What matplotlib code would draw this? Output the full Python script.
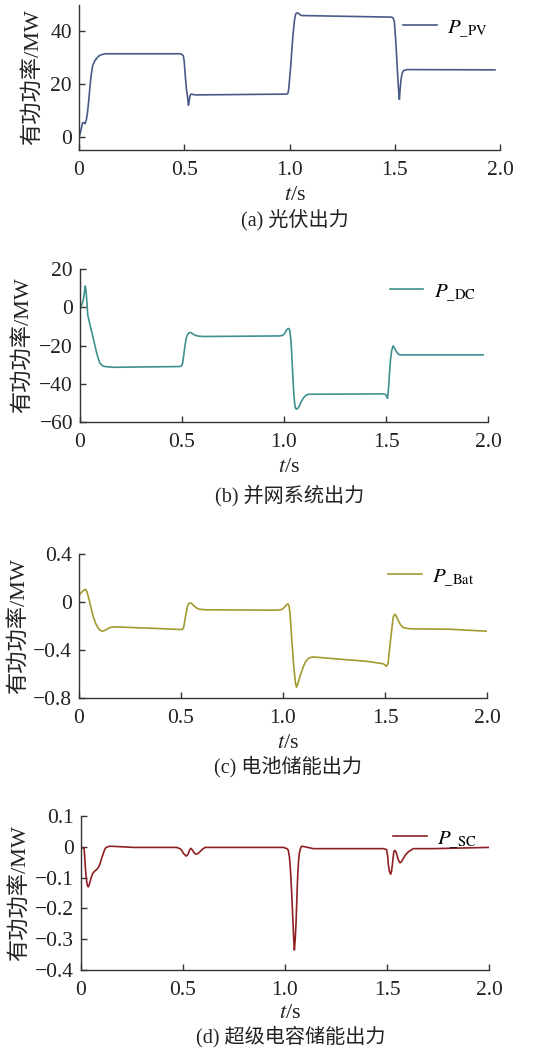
import matplotlib
matplotlib.use('Agg')
import matplotlib.pyplot as plt

plt.rcParams['font.family'] = ['Liberation Serif', 'Noto Sans CJK SC']
plt.rcParams['mathtext.fontset'] = 'stix'
plt.rcParams['axes.unicode_minus'] = True

# (a) PV output, MW
t_pv = [0.0, 0.004, 0.012, 0.017, 0.024, 0.029, 0.035, 0.04, 0.046, 0.052, 0.058, 0.065,
        0.075, 0.084, 0.095, 0.108, 0.125, 0.147, 0.48, 0.49,
        0.496, 0.5, 0.505, 0.51, 0.515, 0.52, 0.524, 0.527, 0.531, 0.535, 0.545, 0.559,
        0.987, 0.993, 0.996, 1.0, 1.006, 1.012, 1.018, 1.024,
        1.029, 1.035, 1.042, 1.05, 1.058, 1.485, 1.492, 1.498, 1.502, 1.506, 1.51, 1.514,
        1.518, 1.522, 1.526, 1.53, 1.535, 1.541, 1.557, 1.976]
p_pv = [0.0, 0.8, 3.5, 5.3, 5.4, 5.0, 6.5, 9.0, 13.5, 19.0, 23.5, 27.0,
        28.8, 29.8, 30.7, 31.2, 31.5, 31.5, 31.5, 31.2,
        30.6, 28.5, 23.0, 18.5, 15.5, 12.0, 13.8, 15.5, 16.1, 16.2, 16.0, 15.9,
        16.2, 16.6, 18.0, 21.5, 27.0, 34.0, 40.0, 44.5,
        46.5, 47.0, 46.9, 46.3, 46.0, 45.4, 45.1, 43.7, 39.5, 34.7, 29.0, 23.2,
        18.0, 14.2, 18.5, 21.9, 24.0, 25.1, 25.5, 25.4]

# (b) grid-connected system output, MW
t_dc = [0.0, 0.008, 0.016, 0.022, 0.026, 0.03, 0.033, 0.038, 0.049, 0.065, 0.082, 0.09, 0.098,
        0.11, 0.122, 0.163, 0.49, 0.498, 0.503, 0.508, 0.514, 0.52, 0.526, 0.534, 0.542,
        0.552, 0.563, 0.58, 0.604, 0.98, 0.995, 1.004, 1.012, 1.02, 1.025, 1.029,
        1.033, 1.037, 1.041, 1.045, 1.049, 1.053, 1.057, 1.061, 1.067, 1.074, 1.084, 1.094,
        1.105, 1.118, 1.486, 1.498, 1.502, 1.507, 1.51, 1.513, 1.517,
        1.522, 1.528, 1.535, 1.542, 1.551, 1.559, 1.567, 1.976]
p_dc = [0.0, 1.0, 3.8, 8.0, 11.1, 8.0, 3.8, -4.0, -9.2, -16.2, -24.0, -27.0, -29.3,
        -30.6, -31.0, -31.4, -31.0, -30.6, -29.3, -25.5, -20.6, -16.5, -14.5, -13.4, -13.2,
        -13.8, -14.6, -15.1, -15.3, -15.0, -14.6, -13.6, -12.0, -11.1, -11.2, -12.7,
        -16.5, -22.3, -31.0, -39.7, -46.5, -51.0, -52.8, -53.3, -53.0, -51.9, -49.5, -47.6,
        -46.3, -45.5, -45.3, -45.6, -46.3, -47.6, -45.5, -41.5, -34.5,
        -27.5, -22.5, -20.2, -21.5, -23.2, -24.4, -24.9, -24.9]

# (c) battery storage output, MW
t_bat = [0.005, 0.013, 0.021, 0.027, 0.033, 0.039, 0.046, 0.058, 0.07, 0.082, 0.095, 0.105,
         0.114, 0.124, 0.136, 0.15, 0.168, 0.266, 0.429,
         0.503, 0.511, 0.515, 0.519, 0.525, 0.531, 0.537, 0.544, 0.552, 0.56, 0.572, 0.584,
         0.6, 0.625, 0.968, 0.99, 1.001, 1.012, 1.02, 1.026,
         1.03, 1.034, 1.038, 1.042, 1.047, 1.052, 1.058, 1.062, 1.066, 1.071, 1.078, 1.088,
         1.099, 1.11, 1.123, 1.135, 1.148, 1.246, 1.409,
         1.49, 1.5, 1.507, 1.515, 1.52, 1.527, 1.534, 1.54, 1.546, 1.551, 1.557, 1.564,
         1.576, 1.589, 1.61, 1.638, 1.817, 1.997]
p_bat = [0.066, 0.082, 0.094, 0.102, 0.105, 0.085, 0.043, -0.04, -0.124, -0.18, -0.221, -0.236,
         -0.243, -0.238, -0.227, -0.214, -0.207, -0.213, -0.224,
         -0.23, -0.221, -0.195, -0.152, -0.095, -0.04, -0.015, -0.007, -0.012, -0.026, -0.045, -0.057,
         -0.062, -0.065, -0.068, -0.064, -0.054, -0.035, -0.018, -0.018,
         -0.035, -0.09, -0.179, -0.29, -0.402, -0.52, -0.625, -0.68, -0.709, -0.69, -0.653, -0.595,
         -0.542, -0.5, -0.472, -0.462, -0.458, -0.472, -0.494,
         -0.514, -0.525, -0.536, -0.514, -0.43, -0.319, -0.215, -0.129, -0.105, -0.104, -0.125, -0.152,
         -0.19, -0.213, -0.221, -0.224, -0.227, -0.243]

# (d) supercapacitor storage output, MW
t_sc = [0.003, 0.015, 0.018, 0.021, 0.025, 0.028, 0.032, 0.036, 0.04, 0.044, 0.05, 0.057,
        0.067, 0.077, 0.086, 0.093, 0.1, 0.109, 0.116, 0.123,
        0.142, 0.257, 0.469, 0.485, 0.493, 0.503, 0.515, 0.52, 0.526, 0.532, 0.538, 0.547,
        0.555, 0.564, 0.573, 0.583, 0.595, 0.608,
        0.992, 1.01, 1.016, 1.022, 1.028, 1.033, 1.038, 1.042, 1.046, 1.05, 1.054, 1.058,
        1.062, 1.066, 1.07, 1.076, 1.082, 1.098, 1.139,
        1.482, 1.498, 1.503, 1.507, 1.512, 1.518, 1.522, 1.526, 1.53, 1.534, 1.539, 1.544,
        1.55, 1.556, 1.564, 1.571, 1.58, 1.592, 1.605,
        1.629, 1.727, 2.0]
p_sc = [-0.002, -0.005, -0.03, -0.065, -0.095, -0.114, -0.126, -0.13, -0.124, -0.114, -0.1, -0.087,
        -0.079, -0.074, -0.066, -0.056, -0.04, -0.022, -0.009, -0.002,
        0.002, -0.002, -0.002, -0.006, -0.011, -0.022, -0.03, -0.028, -0.022, -0.011, -0.005, -0.011,
        -0.02, -0.024, -0.022, -0.016, -0.008, -0.002,
        -0.002, -0.006, -0.011, -0.035, -0.087, -0.155, -0.227, -0.29, -0.335, -0.3, -0.249, -0.17,
        -0.097, -0.05, -0.022, -0.005, 0.002, 0.0, -0.006,
        -0.006, -0.009, -0.03, -0.06, -0.08, -0.089, -0.08, -0.06, -0.035, -0.014, -0.012, -0.016,
        -0.03, -0.043, -0.052, -0.048, -0.038, -0.025, -0.016,
        -0.006, -0.006, -0.002]

x_ticks = [0, 0.5, 1.0, 1.5, 2.0]
x_tick_labels = ['0', '0.5', '1.0', '1.5', '2.0']

W, H = 533, 1050
fig = plt.figure(figsize=(W / 100, H / 100), dpi=100)

# pixel boxes: left, right, top, bottom
panels = [
    dict(box=(79, 500, 5, 150), t=t_pv, p=p_pv, color='#4a5a88', ylim=(-5, 50),
         yticks=[0, 20, 40], ylabels=['0', '20', '40'], sub='PV', cap='(a) 光伏出力',
         yl_x=32, xl_y=195, cap_y=221),
    dict(box=(80, 488, 269, 422), t=t_dc, p=p_dc, color='#3f9090', ylim=(-60, 20),
         yticks=[-60, -40, -20, 0, 20], ylabels=['\u221260', '\u221240', '\u221220', '0', '20'],
         sub='DC', cap='(b) 并网系统出力', yl_x=22, xl_y=468, cap_y=496),
    dict(box=(79, 487, 554, 698), t=t_bat, p=p_bat, color='#a39a30', ylim=(-0.8, 0.4),
         yticks=[-0.8, -0.4, 0, 0.4], ylabels=['\u22120.8', '\u22120.4', '0', '0.4'],
         sub='Bat', cap='(c) 电池储能出力', yl_x=18, xl_y=743, cap_y=767),
    dict(box=(81, 489, 816, 970), t=t_sc, p=p_sc, color='#8e2024', ylim=(-0.4, 0.1),
         yticks=[-0.4, -0.3, -0.2, -0.1, 0, 0.1],
         ylabels=['\u22120.4', '\u22120.3', '\u22120.2', '\u22120.1', '0', '0.1'],
         sub='SC', cap='(d) 超级电容储能出力', yl_x=19, xl_y=1014, cap_y=1037),
]

for pn in panels:
    l, r, top, bot = pn['box']
    ax = fig.add_axes([l / W, 1 - bot / H, (r - l) / W, (bot - top) / H])
    ax.plot(pn['t'], pn['p'], color=pn['color'], lw=1.2,
            label=r'$P_{\_\mathrm{%s}}$' % pn['sub'])
    ax.set_xlim(0, 2.0)
    ax.set_ylim(*pn['ylim'])
    ax.set_xticks(x_ticks)
    ax.set_xticklabels(x_tick_labels)
    ax.set_yticks(pn['yticks'])
    ax.set_yticklabels(pn['ylabels'])
    for s in ['top', 'right']:
        ax.spines[s].set_visible(False)
    for s in ['left', 'bottom']:
        ax.spines[s].set_color('#333333')
        ax.spines[s].set_linewidth(1.0)
    ax.tick_params(direction='in', length=4, width=1.0, color='#333333',
                   labelsize=15.5, labelcolor='#222222')
    ax.tick_params(axis='x', pad=8)
    ax.tick_params(axis='y', pad=5)
    ax.legend(loc='upper right', bbox_to_anchor=(1.0, 1.0), frameon=False,
              fontsize=15, handlelength=1.6, borderaxespad=0.2, handletextpad=0.5)

    cx = (l + r) / 2 / W + 0.01
    fig.text(pn['yl_x'] / W, 1 - (top + bot) / 2 / H, '有功功率/MW', rotation=90,
             ha='center', va='center', fontsize=16, color='#222222')
    fig.text(cx, 1 - pn['xl_y'] / H, r'$t$/s', ha='center', va='center',
             fontsize=16, color='#222222')
    fig.text(cx, 1 - pn['cap_y'] / H, pn['cap'], ha='center', va='center',
             fontsize=14.5, color='#222222')

fig.savefig('out.png', dpi=100)
